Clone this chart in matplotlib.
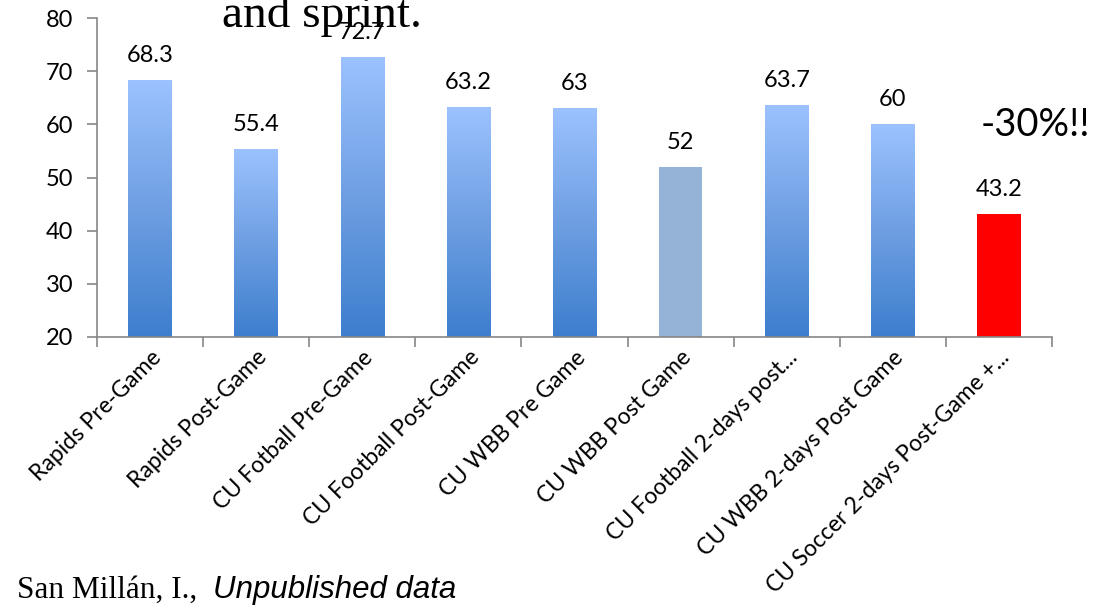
import numpy as np
import matplotlib.pyplot as plt
from matplotlib.colors import LinearSegmentedColormap

categories = ["Rapids Pre-Game", "Rapids Post-Game", "CU Fotball Pre-Game",
              "CU Football Post-Game", "CU WBB Pre Game", "CU WBB Post Game",
              "CU Football 2-days post...", "CU WBB 2-days Post Game",
              "CU Soccer 2-days Post-Game +..."]
values = [68.3, 55.4, 72.7, 63.2, 63, 52, 63.7, 60, 43.2]
value_labels = ["68.3", "55.4", "72.7", "63.2", "63", "52", "63.7", "60", "43.2"]
fills = ["grad", "grad", "grad", "grad", "grad", "#95B3D7", "grad", "grad", "#FF0000"]

sans = ["Lato", "DejaVu Sans"]
plt.rcParams["font.family"] = sans

fig = plt.figure(figsize=(11.04, 6.05), dpi=100)
ax = fig.add_axes([0.0879, 0.443, 0.865, 0.527])

grad = LinearSegmentedColormap.from_list("g", ["#3D7ECE", "#6E9FE2", "#9CC2FF"])
x = np.arange(len(values))
width = 0.41
bars = ax.bar(x, [v - 20 for v in values], bottom=20, width=width,
              color="none", edgecolor="none", zorder=2)
for b, v, f, lab in zip(bars, values, fills, value_labels):
    x0 = b.get_x()
    if f == "grad":
        b.set_facecolor("none")
        im = ax.imshow(np.linspace(0, 1, 256).reshape(-1, 1), cmap=grad,
                       origin="lower", aspect="auto",
                       extent=[x0, x0 + width, 20, v], zorder=2)
        im.set_clip_path(b)
    else:
        b.set_facecolor(f)
    ax.annotate(lab, (x0 + width / 2, v), xytext=(0, 13), textcoords="offset points",
                ha="center", va="baseline", fontsize=17)

ax.set_xlim(-0.5, len(values) - 0.5)
ax.set_ylim(20, 80)
ax.set_yticks(range(20, 81, 10))
ax.set_xticks(np.arange(len(values) + 1) - 0.5)
ax.set_xticklabels([])
ax.set_xticks(x, minor=True)
ax.set_xticklabels(categories, minor=True, rotation=45, ha="right",
                   rotation_mode="anchor", fontsize=16.5)
ax.tick_params(axis="x", which="minor", length=0, pad=7)
ax.tick_params(axis="x", which="major", length=7, width=1.2, color="#868686")
ax.tick_params(axis="y", length=7, width=1.2, color="#868686", labelsize=17, pad=10)
for side in ["top", "right"]:
    ax.spines[side].set_visible(False)
for side in ["left", "bottom"]:
    ax.spines[side].set_color("#868686")
    ax.spines[side].set_linewidth(1.2)
ax.set_facecolor("none")

fig.text(0.292, 0.955, "and sprint.", family="Liberation Serif", fontsize=34,
         ha="center", va="baseline", zorder=1)
fig.text(0.888, 0.793, "-30%!!", fontsize=27.5, ha="left", va="center")
fig.text(0.015, 0.012, "San Millán, I.,", family="Liberation Serif", fontsize=22.5,
         ha="left", va="baseline")
fig.text(0.193, 0.012, "Unpublished data", family="Liberation Sans", style="italic",
         fontsize=22.5, ha="left", va="baseline")

fig.savefig("out.png", dpi=100)
